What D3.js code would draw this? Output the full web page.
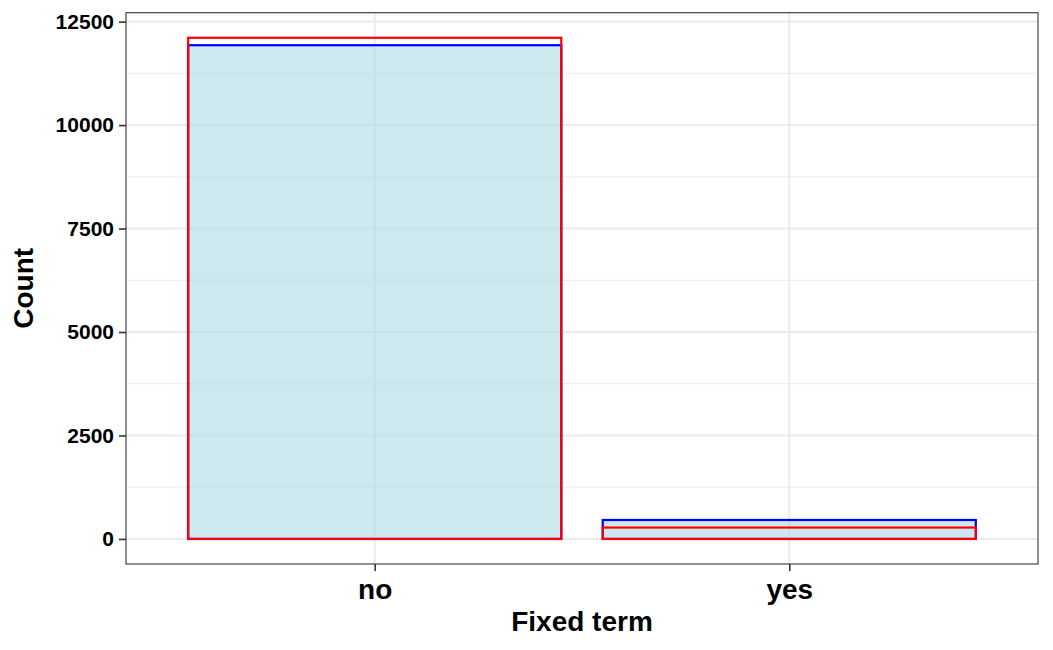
<!DOCTYPE html>
<html>
<head>
<meta charset="utf-8">
<script src="https://cdn.jsdelivr.net/npm/d3@7"></script>
<style>
  html, body { margin: 0; padding: 0; background: #fff; }
  svg { display: block; font-family: "Liberation Sans", Arial, Helvetica, sans-serif; font-weight: bold; }
</style>
</head>
<body>
<svg id="chart" width="1053" height="650"></svg>
<script>
// Data
const categories = ["no", "yes"];
const blueCounts = [11930, 458];   // filled bars, blue outline
const redCounts = [12110, 275];    // unfilled bars, red outline
const yTicks = [0, 2500, 5000, 7500, 10000, 12500];
const yMinorTicks = [1250, 3750, 6250, 8750, 11250];
const xTitle = "Fixed term";
const yTitle = "Count";

const W = 1053, H = 650;
const panel = { left: 126, right: 1038, top: 12.7, bottom: 564 };

const svg = d3.select("#chart");

const x = d3.scalePoint()
  .domain(categories)
  .range([panel.left, panel.right])
  .padding(0.6);
const barW = x.step() * 0.9;

const maxVal = d3.max([...blueCounts, ...redCounts]);
const y = d3.scaleLinear()
  .domain([-0.05 * maxVal, 1.05 * maxVal])
  .range([panel.bottom, panel.top]);

// panel background
svg.append("rect")
  .attr("x", panel.left).attr("y", panel.top)
  .attr("width", panel.right - panel.left).attr("height", panel.bottom - panel.top)
  .attr("fill", "#fff");

// grid
const grid = svg.append("g");
grid.selectAll(".minor").data(yMinorTicks).join("line")
  .attr("x1", panel.left).attr("x2", panel.right)
  .attr("y1", d => y(d)).attr("y2", d => y(d))
  .attr("stroke", "#ebebeb").attr("stroke-width", 1);
grid.selectAll(".major").data(yTicks).join("line")
  .attr("x1", panel.left).attr("x2", panel.right)
  .attr("y1", d => y(d)).attr("y2", d => y(d))
  .attr("stroke", "#ebebeb").attr("stroke-width", 2);
grid.selectAll(".vmajor").data(categories).join("line")
  .attr("x1", d => x(d)).attr("x2", d => x(d))
  .attr("y1", panel.top).attr("y2", panel.bottom)
  .attr("stroke", "#ebebeb").attr("stroke-width", 2);

// blue filled bars
const blueData = categories.map((c, i) => ({ c, v: blueCounts[i] }));
const redData = categories.map((c, i) => ({ c, v: redCounts[i] }));

svg.append("g").selectAll("rect").data(blueData).join("rect")
  .attr("x", d => x(d.c) - barW / 2)
  .attr("width", barW)
  .attr("y", d => y(d.v))
  .attr("height", d => y(0) - y(d.v))
  .attr("fill", "#add8e6").attr("fill-opacity", 0.6)
  .attr("stroke", "#0000ff").attr("stroke-width", 2.2);

svg.append("g").selectAll("rect").data(redData).join("rect")
  .attr("x", d => x(d.c) - barW / 2)
  .attr("width", barW)
  .attr("y", d => y(d.v))
  .attr("height", d => y(0) - y(d.v))
  .attr("fill", "none")
  .attr("stroke", "#ff0000").attr("stroke-width", 2.2);

// panel border
svg.append("rect")
  .attr("x", panel.left).attr("y", panel.top)
  .attr("width", panel.right - panel.left).attr("height", panel.bottom - panel.top)
  .attr("fill", "none").attr("stroke", "#333333").attr("stroke-width", 1.1);

// y axis
const yAxis = d3.axisLeft(y).tickValues(yTicks).tickSize(7).tickPadding(5).tickFormat(d3.format("d"));
const gy = svg.append("g").attr("transform", `translate(${panel.left},0)`).call(yAxis);
gy.select(".domain").remove();
gy.selectAll(".tick line").attr("stroke", "#333333").attr("stroke-width", 1.6);
gy.selectAll(".tick text").attr("fill", "#000").attr("font-size", 21).attr("font-weight", "bold")
  .attr("font-family", "Liberation Sans, Arial, sans-serif");

// x axis
const xAxis = d3.axisBottom(x).tickSize(7).tickPadding(8);
const gx = svg.append("g").attr("transform", `translate(0,${panel.bottom})`).call(xAxis);
gx.select(".domain").remove();
gx.selectAll(".tick line").attr("stroke", "#333333").attr("stroke-width", 1.6);
gx.selectAll(".tick text").attr("fill", "#000").attr("font-size", 28).attr("font-weight", "bold")
  .attr("font-family", "Liberation Sans, Arial, sans-serif");

// titles
svg.append("text")
  .attr("x", (panel.left + panel.right) / 2).attr("y", 631)
  .attr("text-anchor", "middle").attr("font-size", 28).attr("fill", "#000")
  .text(xTitle);
svg.append("text")
  .attr("transform", `translate(33,${(panel.top + panel.bottom) / 2}) rotate(-90)`)
  .attr("text-anchor", "middle").attr("font-size", 28).attr("fill", "#000")
  .text(yTitle);
</script>
</body>
</html>
